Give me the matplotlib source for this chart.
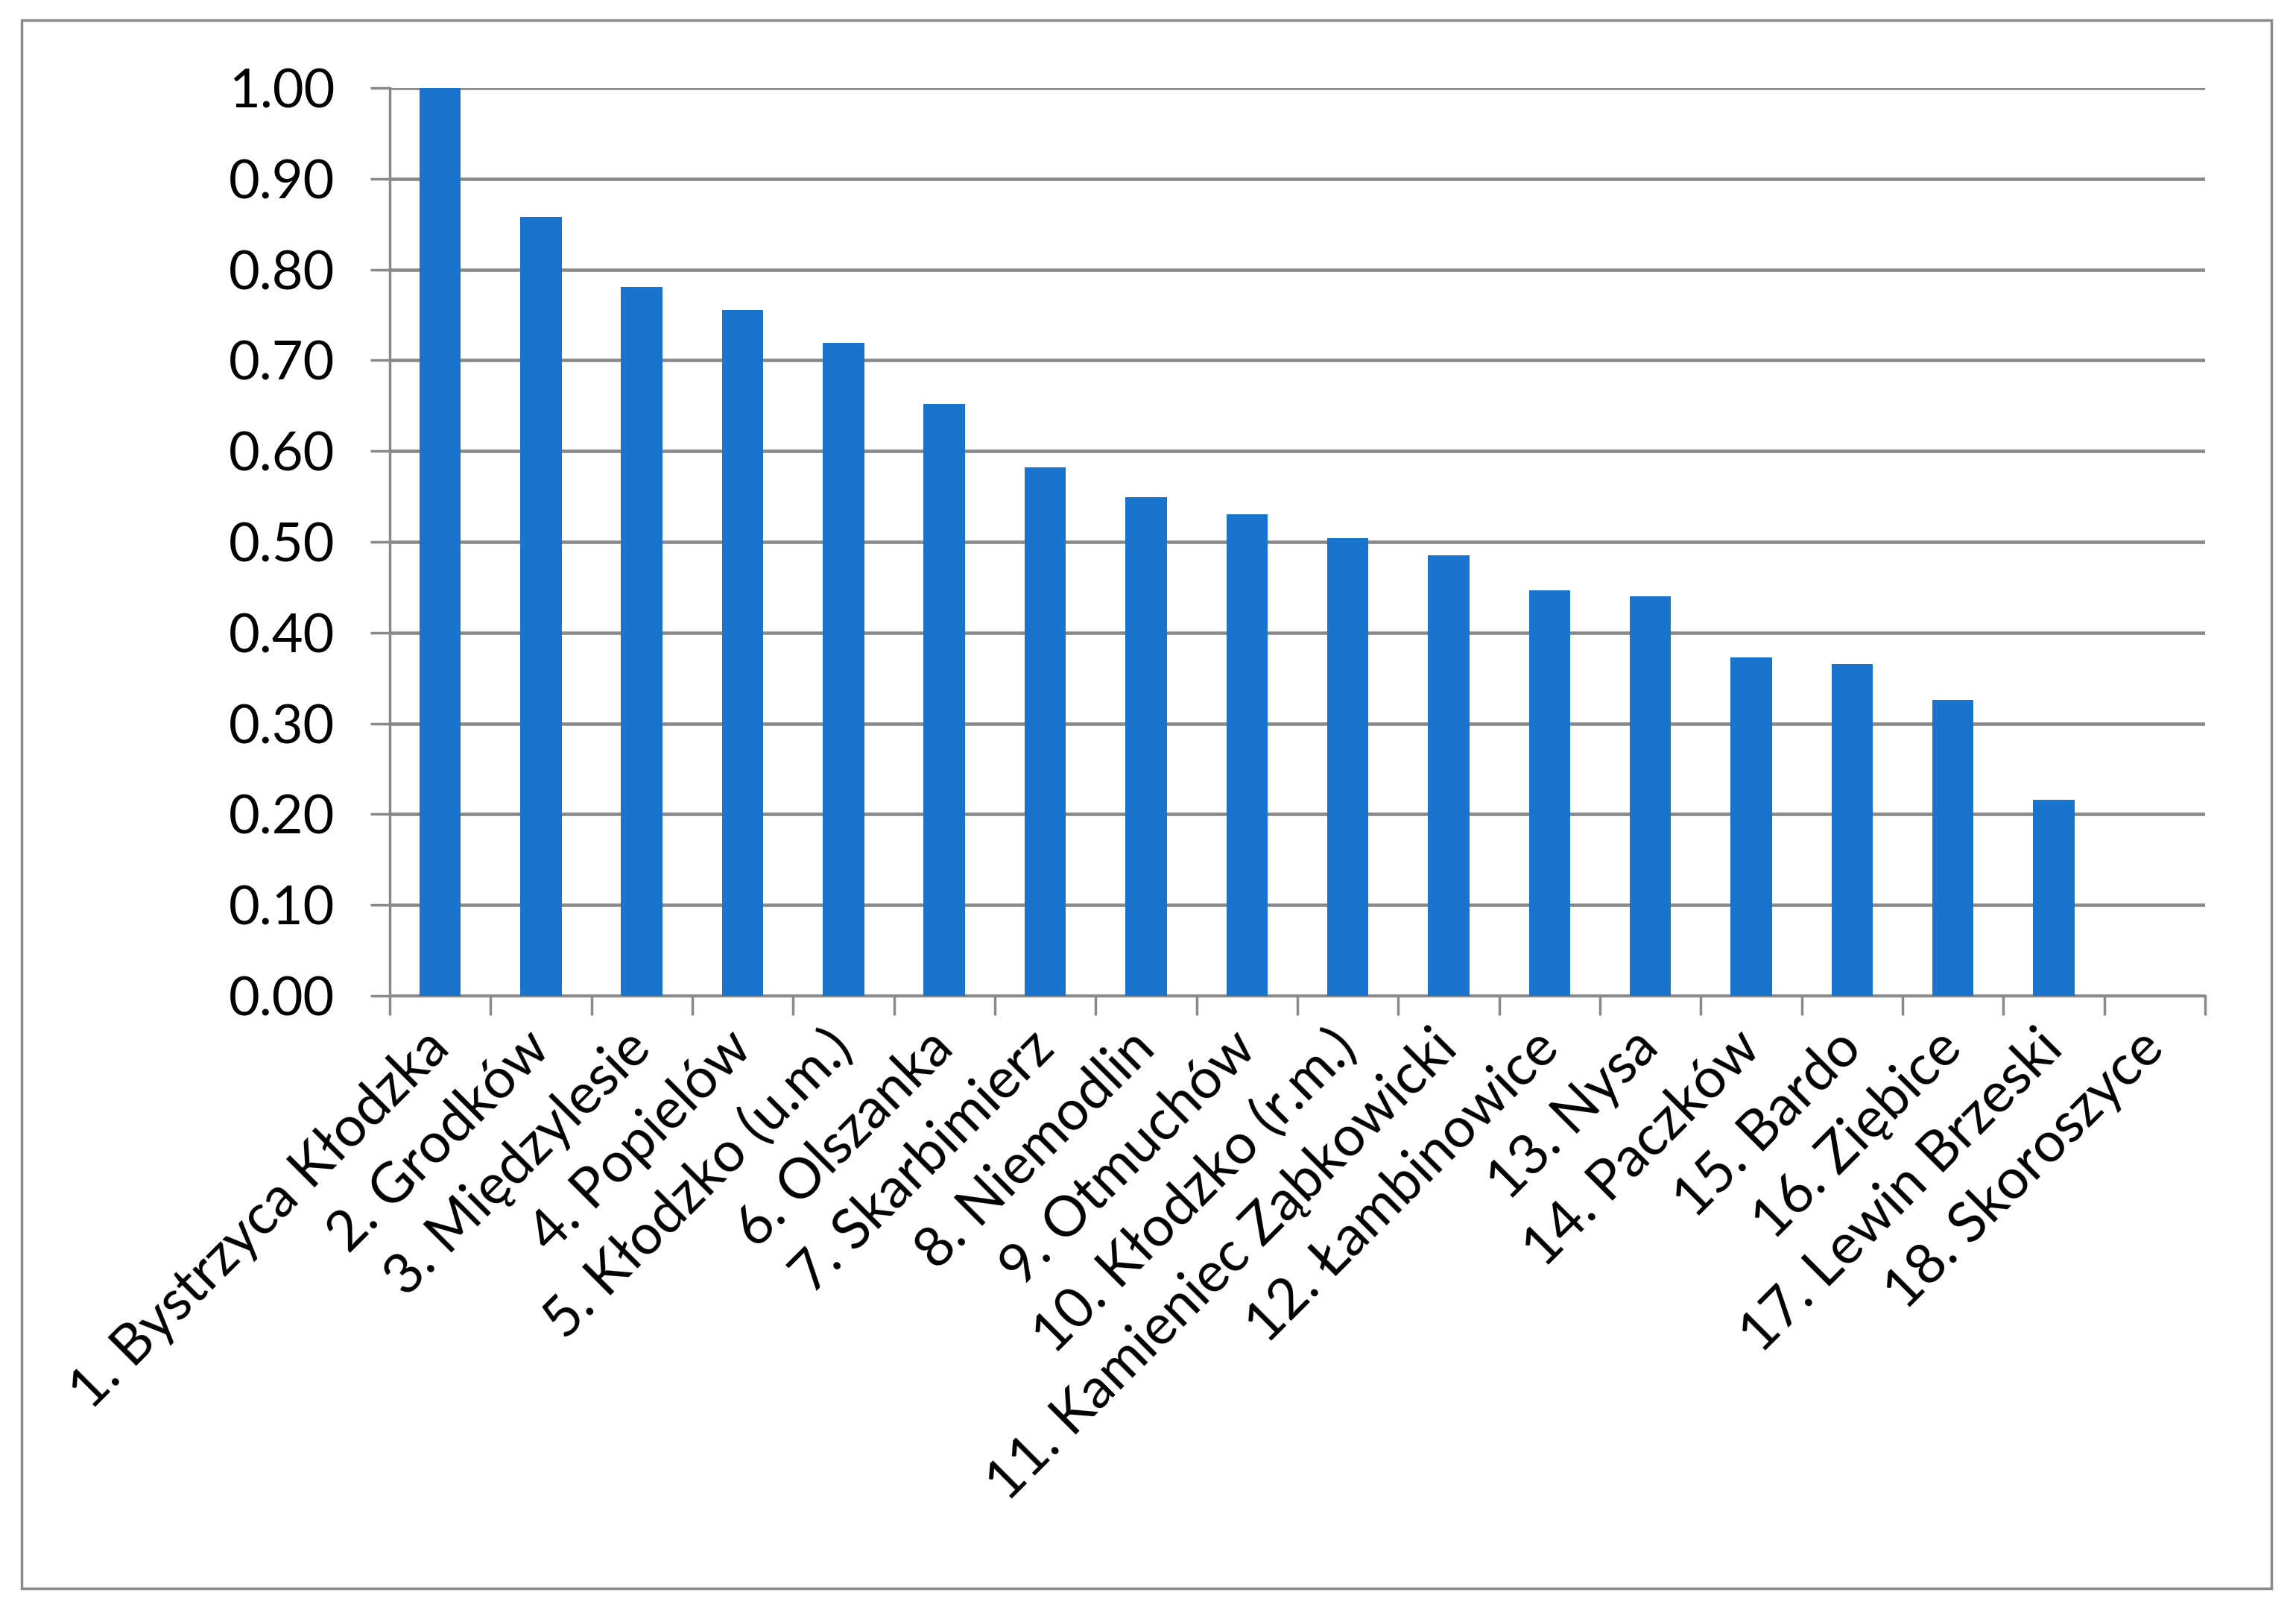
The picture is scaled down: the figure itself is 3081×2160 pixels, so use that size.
"""
Bar chart of an index for 18 gminas (Excel style), values read off the reference.
"""
import matplotlib
matplotlib.use("Agg")
import matplotlib.pyplot as plt
from matplotlib.patches import Rectangle
import numpy as np

names = ["1. Bystrzyca Kłodzka", "2. Grodków", "3. Międzylesie", "4. Popielów",
         "5. Kłodzko (u.m.)", "6. Olszanka", "7. Skarbimierz", "8. Niemodlin",
         "9. Otmuchów", "10. Kłodzko (r.m.)", "11. Kamieniec Ząbkowicki",
         "12. Łambinowice", "13. Nysa", "14. Paczków", "15. Bardo",
         "16. Ziębice", "17. Lewin Brzeski", "18. Skoroszyce"]
values = [1.00, 0.858, 0.781, 0.755, 0.719, 0.652, 0.582, 0.549, 0.530,
          0.504, 0.485, 0.447, 0.440, 0.373, 0.365, 0.326, 0.216, 0.0]
yticks = [0.0, 0.1, 0.2, 0.3, 0.4, 0.5, 0.6, 0.7, 0.8, 0.9, 1.0]

plt.rcParams["font.family"] = ["Lato", "DejaVu Sans"]
grey = "#898989"

fig = plt.figure(figsize=(30.81, 21.6), dpi=100)
ax = fig.add_axes([0.1697, 0.3815, 0.7907, 0.5639])

x = np.arange(len(names))
ax.bar(x, values, width=0.41, color="#1874CD", zorder=3)

ax.set_xlim(-0.5, len(names) - 0.5)
ax.set_ylim(0, 1.0)
ax.set_yticks(yticks)
ax.set_yticklabels(["%.2f" % v for v in yticks], fontsize=52)
ax.yaxis.grid(True, color=grey, linewidth=3.3, zorder=0)
ax.set_axisbelow(True)

# category labels at centres, tick marks at the boundaries
ax.set_xticks(x)
ax.set_xticklabels(names, fontsize=54, rotation=45, ha="right", va="center",
                   rotation_mode="anchor")
ax.set_xticks(np.arange(-0.5, len(names)), minor=True)
ax.tick_params(axis="x", which="major", length=0, pad=42)
ax.tick_params(axis="x", which="minor", length=19, width=2.5, color=grey)
ax.tick_params(axis="y", length=19, width=2.5, color=grey, pad=34)

for side in ["top", "right"]:
    ax.spines[side].set_visible(False)
for side in ["left", "bottom"]:
    ax.spines[side].set_color(grey)
    ax.spines[side].set_linewidth(2.5)

fig.patches.append(Rectangle((0.0094, 0.0134), 0.980, 0.974, transform=fig.transFigure,
                             fill=False, edgecolor=grey, linewidth=2.5))

fig.savefig("out.png", dpi=100)
